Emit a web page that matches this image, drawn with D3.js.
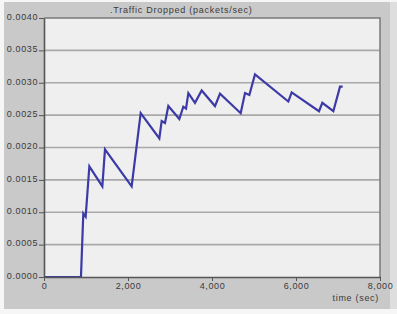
<!DOCTYPE html>
<html><head><meta charset="utf-8">
<script src="https://cdn.jsdelivr.net/npm/d3@7"></script>
<style>
html,body{margin:0;padding:0;background:#f4f4f4;}
svg{display:block;}
text{font-family:"Liberation Sans",Arial,sans-serif;fill:#3a3a3a;}
</style></head><body>
<svg id="c" width="397" height="314"></svg>
<script>
const title = ".Traffic Dropped (packets/sec)";
const xLabel = "time (sec)";
const xTicks = [0, 2000, 4000, 6000, 8000];
const yTicks = [0, 0.0005, 0.001, 0.0015, 0.002, 0.0025, 0.003, 0.0035, 0.004];
const times = [0, 880, 936, 992, 1080, 1389, 1452, 2087, 2302, 2746, 2802, 2881, 2960, 3222, 3317, 3381, 3437, 3595, 3754, 4071, 4190, 4683, 4786, 4889, 5024, 5817, 5897, 6548, 6627, 6889, 7048, 7111];
const dropped = [0, 0, 0.00098, 0.00093, 0.00171, 0.00140, 0.00197, 0.00140, 0.00253, 0.00214, 0.00241, 0.00238, 0.00264, 0.00244, 0.00263, 0.00260, 0.00284, 0.00269, 0.00288, 0.00264, 0.00283, 0.00253, 0.00284, 0.00281, 0.00313, 0.00271, 0.00285, 0.00256, 0.00269, 0.00256, 0.00294, 0.00294];

const svg = d3.select("#c");
// frame
svg.append("rect").attr("x",0).attr("y",0).attr("width",397).attr("height",314).attr("fill","#f6f6f6");
svg.append("rect").attr("x",4).attr("y",2).attr("width",387).attr("height",307).attr("fill","#c9c9c9");
svg.append("rect").attr("x",390).attr("y",2).attr("width",7).attr("height",307).attr("fill","#dedede");

const L=44, R=380, T=18, B=277;
const x = d3.scaleLinear().domain([0,8000]).range([L,R]);
const y = d3.scaleLinear().domain([0,0.004]).range([B,T]);

svg.append("rect").attr("x",L).attr("y",T).attr("width",R-L).attr("height",B-T).attr("fill","#efefef");

// grid
svg.append("g").selectAll("line").data(yTicks.filter(d=>d>0 && d<0.004)).join("line")
  .attr("x1",L).attr("x2",R).attr("y1",d=>y(d)).attr("y2",d=>y(d))
  .attr("stroke","#a9a9a9").attr("stroke-width",1.6);

// top/right border
svg.append("path").attr("d",`M${L},${T}H${R}V${B}`).attr("fill","none").attr("stroke","#7a7a7a").attr("stroke-width",1.5);

// line
const line = d3.line().x((d,i)=>x(times[i])).y(d=>y(d));
svg.append("path").datum(dropped).attr("d",line).attr("fill","none")
  .attr("stroke","#3b3aa6").attr("stroke-width",2.2).attr("stroke-linejoin","miter");

// axes
const yAxis = d3.axisLeft(y).tickValues(yTicks).tickFormat(d3.format(".4f")).tickSize(5).tickSizeOuter(0);
const gy = svg.append("g").attr("transform",`translate(${L},0)`).call(yAxis);
const xAxis = d3.axisBottom(x).tickValues(xTicks).tickFormat(d3.format(",")).tickSize(4).tickSizeOuter(0);
const gx = svg.append("g").attr("transform",`translate(0,${B})`).call(xAxis);
[gy,gx].forEach(g=>{
  g.select(".domain").attr("stroke","#555").attr("stroke-width",1.6);
  g.selectAll(".tick line").attr("stroke","#555").attr("stroke-width",1);
  g.selectAll(".tick text").attr("font-size",9).attr("letter-spacing","0.6px")
   .style("font-family","'Liberation Sans',Arial,sans-serif").attr("fill","#3a3a3a");
});
gy.selectAll(".tick text").attr("x",-6).attr("dy","0.15em");
gx.selectAll(".tick text").attr("y",6);

svg.append("text").attr("x",110).attr("y",13).attr("font-size",9).attr("letter-spacing","0.75px").text(title);
svg.append("text").attr("x",379).attr("y",301).attr("text-anchor","end").attr("font-size",9).attr("letter-spacing","0.7px").text(xLabel);
</script></body></html>
